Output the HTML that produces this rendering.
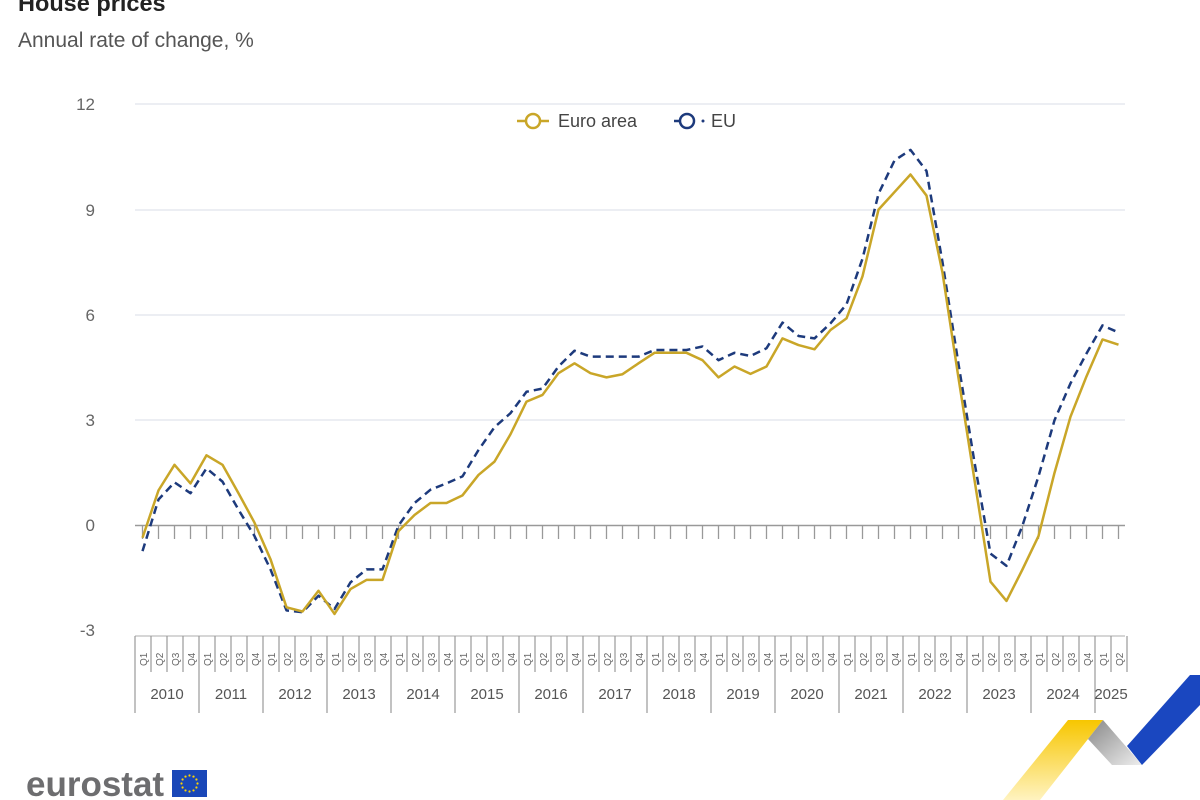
<!DOCTYPE html>
<html><head><meta charset="utf-8"><style>
html,body{margin:0;padding:0;background:#fff;}
body{width:1200px;height:800px;overflow:hidden;position:relative;font-family:"Liberation Sans",sans-serif;}
</style></head><body>
<svg width="1200" height="800" viewBox="0 0 1200 800" xmlns="http://www.w3.org/2000/svg" style="position:absolute;left:0;top:0">
<text x="18" y="11" font-size="23.5" font-weight="bold" fill="#222">House prices</text>
<text x="18" y="47" font-size="21" fill="#555">Annual rate of change, %</text>
<g stroke="#e6e8ef" stroke-width="1.5">
<line x1="135" y1="104" x2="1125" y2="104"/><line x1="135" y1="210" x2="1125" y2="210"/>
<line x1="135" y1="315" x2="1125" y2="315"/><line x1="135" y1="420" x2="1125" y2="420"/>
</g>
<line x1="135" y1="636" x2="1125" y2="636" stroke="#c8c8c8" stroke-width="1.5"/>
<g font-size="17" fill="#666" text-anchor="end">
<text x="95" y="110">12</text><text x="95" y="216">9</text><text x="95" y="321">6</text>
<text x="95" y="426">3</text><text x="95" y="531">0</text><text x="95" y="636">-3</text>
</g>
<g id="ax"></g>
<g transform="translate(517,121)">
<line x1="0" y1="0" x2="32" y2="0" stroke="#c9a628" stroke-width="2.5"/>
<circle cx="16" cy="0" r="7" fill="#fff" stroke="#c9a628" stroke-width="2.5"/>
<text x="41" y="6" font-size="18" fill="#444">Euro area</text>
<line x1="157" y1="0" x2="171" y2="0" stroke="#1d3a7c" stroke-width="2.5"/>
<circle cx="170" cy="0" r="7" fill="#fff" stroke="#1d3a7c" stroke-width="2.5"/>
<circle cx="186" cy="0" r="1.5" fill="#1d3a7c"/>
<text x="194" y="6" font-size="18" fill="#444">EU</text>
</g>
<polyline id="eu" fill="none" stroke="#1d3a7c" stroke-width="2.5" stroke-dasharray="8,5" stroke-linejoin="round"/>
<polyline id="ea" fill="none" stroke="#c9a628" stroke-width="2.5" stroke-linejoin="round"/>
<text x="26" y="796" font-size="35" font-weight="bold" fill="#6d6d6f">eurostat</text>
<rect x="172" y="770" width="35" height="27" fill="#1a47b8"/>
<g id="stars" fill="#ffd400"></g>
<defs><linearGradient id="yg" x1="0" y1="0" x2="0" y2="1"><stop offset="0" stop-color="#f7c600"/><stop offset="1" stop-color="#fff3c0"/></linearGradient>
<linearGradient id="gg" x1="0" y1="0" x2="1" y2="1"><stop offset="0" stop-color="#888"/><stop offset="1" stop-color="#eee"/></linearGradient></defs>
<polygon points="1068,720 1103,720 1040,800 1003,800" fill="url(#yg)"/>
<polygon points="1103,720 1142,765 1112,765 1088,739" fill="url(#gg)"/>
<polygon points="1127,746 1190,675 1200,675 1200,705 1142,765" fill="#1a47c0"/>
</svg>
<script>
const ea=[-0.35,1.0,1.73,1.2,2.0,1.73,0.92,0.08,-0.96,-2.33,-2.45,-1.86,-2.52,-1.81,-1.55,-1.55,-0.16,0.3,0.64,0.64,0.86,1.44,1.82,2.6,3.53,3.72,4.34,4.62,4.34,4.22,4.31,4.62,4.92,4.92,4.92,4.71,4.22,4.53,4.32,4.53,5.33,5.14,5.02,5.57,5.9,7.1,9.0,9.5,10.0,9.4,7.2,4.2,1.3,-1.6,-2.15,-1.25,-0.3,1.5,3.1,4.25,5.3,5.15];
const eu=[-0.73,0.74,1.23,0.92,1.63,1.25,0.45,-0.3,-1.25,-2.42,-2.47,-2.0,-2.38,-1.62,-1.25,-1.25,0,0.64,1.02,1.2,1.4,2.15,2.8,3.2,3.81,3.9,4.53,4.98,4.81,4.81,4.81,4.81,5.0,5.0,5.0,5.1,4.71,4.92,4.83,5.05,5.78,5.4,5.33,5.76,6.3,7.6,9.45,10.4,10.7,10.1,7.5,4.6,1.8,-0.8,-1.15,0.0,1.4,3.0,4.05,4.9,5.7,5.5];
const X=i=>142.5+16*i, Y=v=>525.5-35.1*v;
document.getElementById('ea').setAttribute('points',ea.map((v,i)=>X(i)+','+Y(v)).join(' '));
document.getElementById('eu').setAttribute('points',eu.map((v,i)=>X(i)+','+Y(v)).join(' '));
let s='<line x1="135" y1="525.5" x2="1125" y2="525.5" stroke="#999" stroke-width="1.5"/>';
for(let i=0;i<62;i++){s+=`<line x1="${X(i)}" y1="526" x2="${X(i)}" y2="539" stroke="#999" stroke-width="1.3"/>`;}
for(let k=0;k<=62;k++){const x=135+16*k;const yr=k%4==0;s+=`<line x1="${x}" y1="636" x2="${x}" y2="${yr?713:672}" stroke="#999" stroke-width="1.2"/>`;}
for(let k=0;k<62;k++){const x=143+16*k+4;s+=`<text transform="translate(${x},666) rotate(-90)" font-size="10" fill="#666">Q${k%4+1}</text>`;}
for(let y=0;y<16;y++){const w=y==15?32:64;const x=135+64*y+w/2;s+=`<text x="${x}" y="699" font-size="15" fill="#555" text-anchor="middle">${2010+y}</text>`;}
document.getElementById('ax').innerHTML=s;
let st='';for(let k=0;k<12;k++){const a=k*Math.PI/6;st+=`<circle cx="${189.5+8*Math.cos(a)}" cy="${783.5+8*Math.sin(a)}" r="1.1"/>`;}
document.getElementById('stars').innerHTML=st;
</script>
</body></html>
